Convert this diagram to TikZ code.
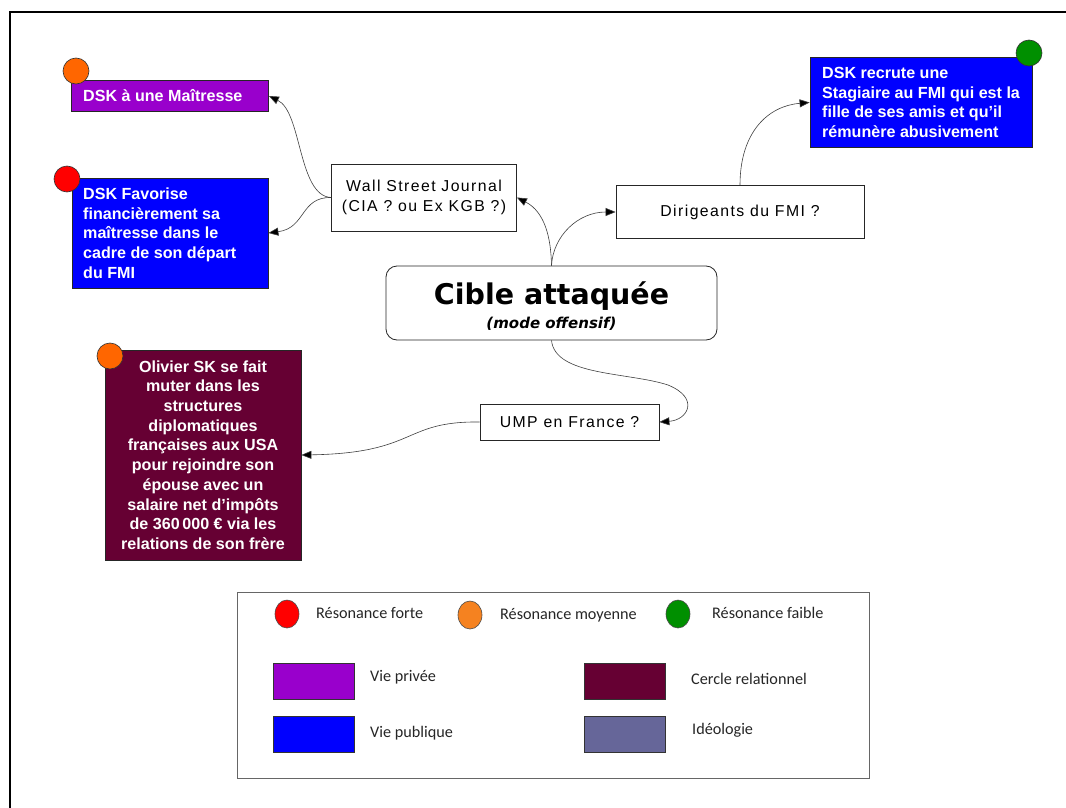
\documentclass[tikz,border=0pt]{standalone}
\usepackage{fontspec}
\setmainfont{Liberation Sans}
\newfontfamily\djv{DejaVu Sans}
\newfontfamily\widefont[LetterSpace=9]{Liberation Sans}
\newfontfamily\legfont{Carlito}
\usetikzlibrary{arrows.meta,shapes.geometric}
\definecolor{cpurple}{HTML}{9900CC}
\definecolor{cblue}{HTML}{0000FF}
\definecolor{cwine}{HTML}{660033}
\definecolor{cslate}{HTML}{666699}
\definecolor{corange}{HTML}{FF6600}
\definecolor{lorange}{HTML}{F58220}
\definecolor{cred}{HTML}{FF0000}
\definecolor{cgreen}{HTML}{008F00}
\tikzset{
  cbox/.style={draw=black!85, line width=0.8pt, inner sep=0pt},
  ctext/.style={text=white, inner sep=0pt, align=left, font=\bfseries\fontsize{16.1}{19.7}\selectfont},
  wbox/.style={draw=black!85, fill=white, line width=0.8pt, inner sep=0pt, align=center, font=\widefont\fontsize{15.8}{20}\selectfont},
  dot/.style={circle, draw=black!80, line width=0.6pt, minimum size=26pt, inner sep=0pt},
  ldot/.style={ellipse, draw=black!70, line width=0.6pt, minimum width=24pt, minimum height=28pt, inner sep=0pt},
  lsq/.style={draw=black!80, line width=0.8pt, minimum width=81pt, minimum height=36pt, inner sep=0pt},
  ltext/.style={anchor=west, inner sep=0pt, font=\legfont\fontsize{16.2}{18}\selectfont, text=black!85},
  conn/.style={draw=black!75, line width=0.6pt, -{Triangle[length=10pt,width=8pt,fill=black]}},
}
\begin{document}
\begin{tikzpicture}[x=1pt,y=-1pt]
\useasboundingbox (0,0) rectangle (1066,808);
\fill[white] (0,0) rectangle (1066,808);
% outer frame
\draw[line width=2pt] (10,808) -- (10,12) -- (1066,12);

% left-top boxes
\node[cbox, fill=cpurple, minimum width=197pt, minimum height=31pt] (maitresse) at (170,96) {};
\node[ctext, anchor=west] (maitresseT) at (83,96) {DSK à une Maîtresse};
\node[dot, fill=corange] (d1) at (76,71) {};

\node[cbox, fill=cblue, minimum width=196pt, minimum height=110pt] (favorise) at (170,233) {};
\node[ctext, anchor=west] (favoriseT) at (83,233) {DSK Favorise\\financièrement sa\\maîtresse dans le\\cadre de son départ\\du FMI};
\node[dot, fill=cred] (d2) at (67,179) {};

% right-top box
\node[cbox, fill=cblue, minimum width=222pt, minimum height=90pt] (recrute) at (921,102.5) {};
\node[ctext, anchor=west] (recruteT) at (822,102.5) {DSK recrute une\\Stagiaire au FMI qui est la\\fille de ses amis et qu’il\\rémunère abusivement};
\node[dot, fill=cgreen] (d3) at (1029,53) {};

% white boxes
\node[wbox, minimum width=185pt, minimum height=67pt] (wsj) at (424,197.5) {Wall Street Journal\\(CIA ? ou Ex KGB ?)};
\node[wbox, minimum width=248pt, minimum height=53pt] (dir) at (740,212) {Dirigeants du FMI ?};
\node[wbox, minimum width=179pt, minimum height=36pt] (ump) at (569.5,422) {UMP en France ?};

% central node
\node[draw=black!85, line width=0.8pt, rounded corners=11pt, minimum width=331pt, minimum height=74pt, inner sep=0pt] (cible) at (551.5,303) {};
\node[anchor=base, inner sep=0pt, font=\djv\bfseries\fontsize{28.5}{30}\selectfont] (cibleT) at (551.5,304) {Cible attaquée};
\node[anchor=base, inner sep=0pt, font=\djv\bfseries\itshape\fontsize{15}{18}\selectfont] (cibleS) at (551.5,328) {(mode offensif)};

% Olivier box
\node[cbox, fill=cwine, minimum width=196pt, minimum height=210pt] (olivier) at (203,455) {};
\node[ctext, align=center] (olivierT) at (203,455) {Olivier SK se fait\\muter dans les\\structures\\diplomatiques\\françaises aux USA\\pour rejoindre son\\épouse avec un\\salaire net d’impôts\\de 360\,000 € via les\\relations de son frère};
\node[dot, fill=corange] (d4) at (110,356) {};

% connectors
\draw[conn] (wsj.west) .. controls (298,196) and (302,112) .. (maitresse.east);
\draw[conn] (wsj.west) .. controls (300,197) and (306,228) .. (favorise.east);
\draw[conn] (cible.north) .. controls (551,238) and (545,212) .. (wsj.east);
\draw[conn] (cible.north) .. controls (553,236) and (578,212) .. (dir.west);
\draw[conn] (dir.north) .. controls (740,132) and (768,106) .. (recrute.west);
\draw[conn] (cible.south) .. controls (555,376) and (628,372) .. (668,385) .. controls (700,398) and (688,420) .. (ump.east);
\draw[conn] (ump.west) .. controls (402,421) and (418,453) .. (olivier.east);

% legend
\node[draw=black!60, line width=0.9pt, minimum width=632pt, minimum height=186pt, inner sep=0pt] (legend) at (553,685) {};
\node[ldot, fill=cred] (l1) at (287,614) {};
\node[ltext] (l1t) at (316,613) {Résonance forte};
\node[ldot, fill=lorange] (l2) at (470,615) {};
\node[ltext] (l2t) at (500,615) {Résonance moyenne};
\node[ldot, fill=cgreen] (l3) at (678,614) {};
\node[ltext] (l3t) at (712,613) {Résonance faible};
\node[lsq, fill=cpurple] (s1) at (313.5,681) {};
\node[ltext] (s1t) at (370,677) {Vie privée};
\node[lsq, fill=cblue] (s2) at (313.5,734) {};
\node[ltext] (s2t) at (370,733) {Vie publique};
\node[lsq, fill=cwine] (s3) at (625,681) {};
\node[ltext] (s3t) at (691,679) {Cercle relationnel};
\node[lsq, fill=cslate] (s4) at (625,734) {};
\node[ltext] (s4t) at (692,730) {Idéologie};
\end{tikzpicture}
\end{document}
